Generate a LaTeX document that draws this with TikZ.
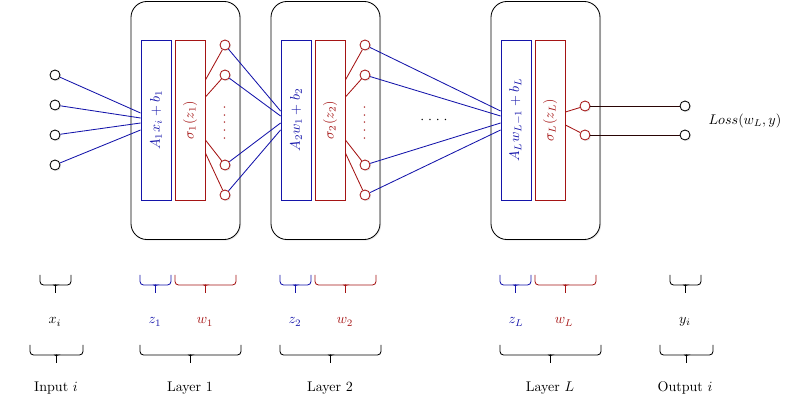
\documentclass[tikz,border=0pt]{standalone}
\usetikzlibrary{calc,shadows}

\definecolor{nnblue}{RGB}{20,20,170}
\definecolor{nnred}{RGB}{165,20,20}

\tikzset{
  softshadow/.style={drop shadow={opacity=0.18,shadow xshift=0.8pt,shadow yshift=-0.8pt}},
  layerbox/.style={draw,fill=white,rounded corners=0.4cm,minimum width=2.725cm,minimum height=5.95cm,softshadow},
  affinebox/.style={draw=nnblue,fill=white,minimum width=0.75cm,minimum height=4cm,softshadow},
  actbox/.style={draw=nnred,fill=white,minimum width=0.75cm,minimum height=4cm,softshadow},
  neuron/.style={circle,draw,fill=white,minimum size=0.25cm,inner sep=0pt,softshadow},
}

% downward brace: colour, left x, right x, top y
\newcommand{\bracedown}[4]{%
  \pgfmathsetmacro{\bm}{(#2+#3)/2}
  \draw[#1,rounded corners=2.5pt] (#2,#4) -- (#2,#4+10) -- (\bm-2,#4+10) to[out=0,in=90] (\bm,#4+13) -- (\bm,#4+18);
  \draw[#1,rounded corners=2.5pt] (#3,#4) -- (#3,#4+10) -- (\bm+2,#4+10) to[out=180,in=90] (\bm,#4+13);
}

\begin{document}
\begin{tikzpicture}[x=0.025cm,y=-0.025cm,line width=0.6pt]
\useasboundingbox (0,0) rectangle (812,412);

% layers
\node[layerbox] (box1) at (185.5,120.5) {};
\node[layerbox] (box2) at (325.5,120.5) {};
\node[layerbox] (boxL) at (545.5,120.5) {};

\node[affinebox] (a1) at (156,120) {};
\node[actbox] (s1) at (190,120) {};
\node[affinebox] (a2) at (296,120) {};
\node[actbox] (s2) at (330,120) {};
\node[affinebox] (aL) at (516,120) {};
\node[actbox] (sL) at (550,120) {};

\node[rotate=90,text=nnblue] (ta1) at (a1) {$A_1x_i+b_1$};
\node[rotate=90,text=nnred] (ts1) at (s1) {$\sigma_1(z_1)$};
\node[rotate=90,text=nnblue] (ta2) at (a2) {$A_2w_1+b_2$};
\node[rotate=90,text=nnred] (ts2) at (s2) {$\sigma_2(z_2)$};
\node[rotate=90,text=nnblue] (taL) at (aL) {$A_Lw_{L-1}+b_L$};
\node[rotate=90,text=nnred] (tsL) at (sL) {$\sigma_L(z_L)$};

% units
\foreach \k/\y in {1/75,2/105,3/135,4/165}
  \node[neuron] (x\k) at (55,\y) {};
\foreach \k/\y in {1/45,2/75,3/165,4/195}{
  \node[neuron,draw=nnred] (h1\k) at (225,\y) {};
  \node[neuron,draw=nnred] (h2\k) at (365,\y) {};
}
\node[rotate=90,text=nnred] (d1) at (225,123) {${\cdot}\;{\cdot}\;{\cdot}\;{\cdot}\;{\cdot}$};
\node[rotate=90,text=nnred] (d2) at (365,123) {${\cdot}\;{\cdot}\;{\cdot}\;{\cdot}\;{\cdot}$};
\node (gap) at (434,120) {${\cdot}\;{\cdot}\;{\cdot}\;{\cdot}$};

\node[neuron,draw=nnred] (oL1) at (585,106) {};
\node[neuron,draw=nnred] (oL2) at (585,135) {};
\node[neuron] (y1) at (685,106) {};
\node[neuron] (y2) at (685,135) {};
\node (loss) at (745,121) {$Loss(w_L,y)$};

% connections
\foreach \k/\dy in {1/-7,2/-2,3/3,4/10}
  \draw[nnblue] (x\k) -- ($(a1.west)+(0,\dy)$);
\foreach \k/\dy in {1/-40,2/-23,3/20,4/33}{
  \draw[nnred] ($(s1.east)+(0,\dy)$) -- (h1\k);
  \draw[nnred] ($(s2.east)+(0,\dy)$) -- (h2\k);
}
\foreach \k/\dy in {1/-9,2/-4,3/3,4/10}{
  \draw[nnblue] (h1\k) -- ($(a2.west)+(0,\dy)$);
  \draw[nnblue] (h2\k) -- ($(aL.west)+(0,\dy)$);
}
\draw[nnred] ($(sL.east)+(0,-8)$) -- (oL1);
\draw[nnred] ($(sL.east)+(0,5)$) -- (oL2);
\draw[nnred!25!black] (oL1) -- (y1);
\draw[nnred!25!black] (oL2) -- (y2);

% braces
\foreach \a/\b/\c in {40/71/black,140/171/nnblue,175/236/nnred,280/311/nnblue,315/376/nnred,500/531/nnblue,535/596/nnred,670/701/black}{
  \bracedown{\c}{\a}{\b}{275}
}
\foreach \a/\b in {30/83,140/241,280/381,500/601,660/713}{
  \bracedown{black}{\a}{\b}{345}
}

\node (lx) at (55,322) {$x_i$};
\node[text=nnblue] (lz1) at (155,322) {$z_1$};
\node[text=nnred] (lw1) at (205,322) {$w_1$};
\node[text=nnblue] (lz2) at (295,322) {$z_2$};
\node[text=nnred] (lw2) at (345,322) {$w_2$};
\node[text=nnblue] (lzL) at (516,322) {$z_L$};
\node[text=nnred] (lwL) at (564,322) {$w_L$};
\node (ly) at (685,322) {$y_i$};

\node (nin) at (56,388) {Input $i$};
\node (n1) at (190,388) {Layer 1};
\node (n2) at (330,388) {Layer 2};
\node (nL) at (550,388) {Layer $L$};
\node (nout) at (685,388) {Output $i$};
\end{tikzpicture}
\end{document}
